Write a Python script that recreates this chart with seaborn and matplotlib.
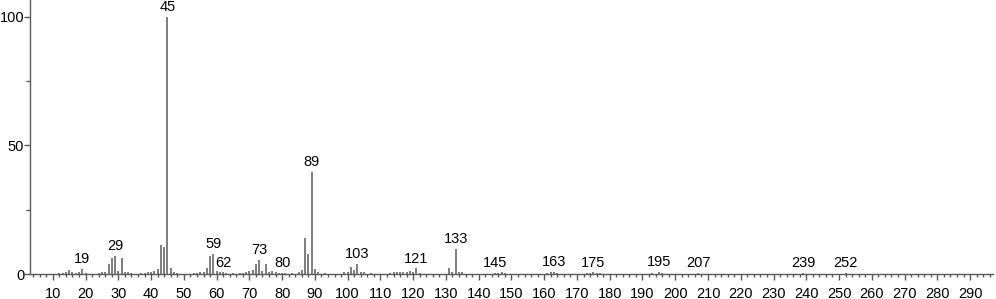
import numpy as np
import matplotlib
matplotlib.use("Agg")
import matplotlib.pyplot as plt
import seaborn as sns
from matplotlib.ticker import MultipleLocator

mz = [12, 13, 14, 15, 16, 17, 18, 19, 20, 24, 25, 26, 27, 28, 29, 30, 31, 32, 33, 34,
      37, 38, 39, 40, 41, 42, 43, 44, 45, 46, 47, 48, 53, 54, 55, 56, 57, 58, 59, 60,
      61, 62, 63, 65, 67, 68, 69, 70, 71, 72, 73, 74, 75, 76, 77, 78, 79, 80, 81, 83,
      85, 86, 87, 88, 89, 90, 91, 93, 99, 100, 101, 102, 103, 104, 105, 107, 113, 114,
      115, 116, 117, 118, 119, 120, 121, 122, 131, 132, 133, 134, 135, 145, 146, 147,
      148, 161, 162, 163, 164, 173, 174, 175, 176, 177, 193, 195, 196, 207, 239, 252]
intensity = [0.3, 0.5, 0.8, 1.4, 0.8, 0.3, 0.6, 2.1, 0.3, 0.3, 0.7, 0.8, 3.9, 6.1, 6.9, 1.2, 6.2, 0.8, 0.6, 0.3,
             0.4, 0.5, 0.6, 0.6, 1.2, 2.1, 11.3, 10.5, 100.0, 2.2, 0.8, 0.3, 0.3, 0.4, 0.6, 0.8, 2.2, 7.0, 7.7, 1.2,
             0.8, 0.6, 0.5, 0.3, 0.4, 0.3, 0.6, 1.2, 1.7, 3.7, 5.4, 1.0, 3.9, 0.9, 1.2, 0.6, 0.4, 0.5, 0.3, 0.4,
             0.6, 1.4, 14.1, 7.6, 39.7, 2.1, 0.7, 0.3, 0.6, 0.8, 2.7, 1.5, 3.9, 0.7, 0.7, 0.5, 0.5, 0.6,
             0.7, 0.6, 0.8, 0.6, 1.0, 0.7, 2.2, 0.5, 2.3, 0.7, 9.7, 0.8, 0.6, 0.4, 0.5, 0.6,
             0.4, 0.4, 0.6, 0.7, 0.5, 0.3, 0.4, 0.6, 0.5, 0.3, 0.3, 0.7, 0.3, 0.4, 0.5, 0.5]
labeled = [19, 29, 45, 59, 62, 73, 80, 89, 103, 121, 133, 145, 163, 175, 195, 207, 239, 252]
x_ticks = list(range(10, 300, 10))
y_ticks = [0, 50, 100]

sns.set_style("ticks")
plt.rcParams['font.family'] = ['Liberation Sans', 'DejaVu Sans']

fig = plt.figure(figsize=(9.96, 2.99), dpi=100)
ax = fig.add_axes([0.030, 0.0836, 0.967, 0.9164])

gray = '#5a5a5a'
ax.vlines(mz, 0, intensity, colors=gray, linewidth=1.1)
lookup = dict(zip(mz, intensity))
for m in labeled:
    ax.annotate(str(m), (m, lookup[m]), xytext=(0, 2), textcoords='offset points',
                ha='center', va='bottom', fontsize=10.5, color='black')

ax.set_xlim(3, 297)
ax.set_ylim(0, 106.6)
ax.set_xticks(x_ticks)
ax.xaxis.set_minor_locator(MultipleLocator(2))
ax.set_yticks(y_ticks)
ax.yaxis.set_minor_locator(MultipleLocator(25))
sns.despine(ax=ax)
for s in ['left', 'bottom']:
    ax.spines[s].set_color(gray)
    ax.spines[s].set_linewidth(1.0)
ax.tick_params(axis='x', which='major', labelsize=10.5, color=gray, length=4.5, width=1.0, pad=4.5, labelcolor='black')
ax.tick_params(axis='x', which='minor', color=gray, length=2.5, width=1.0)
ax.tick_params(axis='y', which='major', labelsize=10.5, color=gray, length=4, width=1.0, pad=0, labelcolor='black')
ax.tick_params(axis='y', which='minor', color=gray, length=3, width=1.0)

fig.savefig('out.png', dpi=100)
